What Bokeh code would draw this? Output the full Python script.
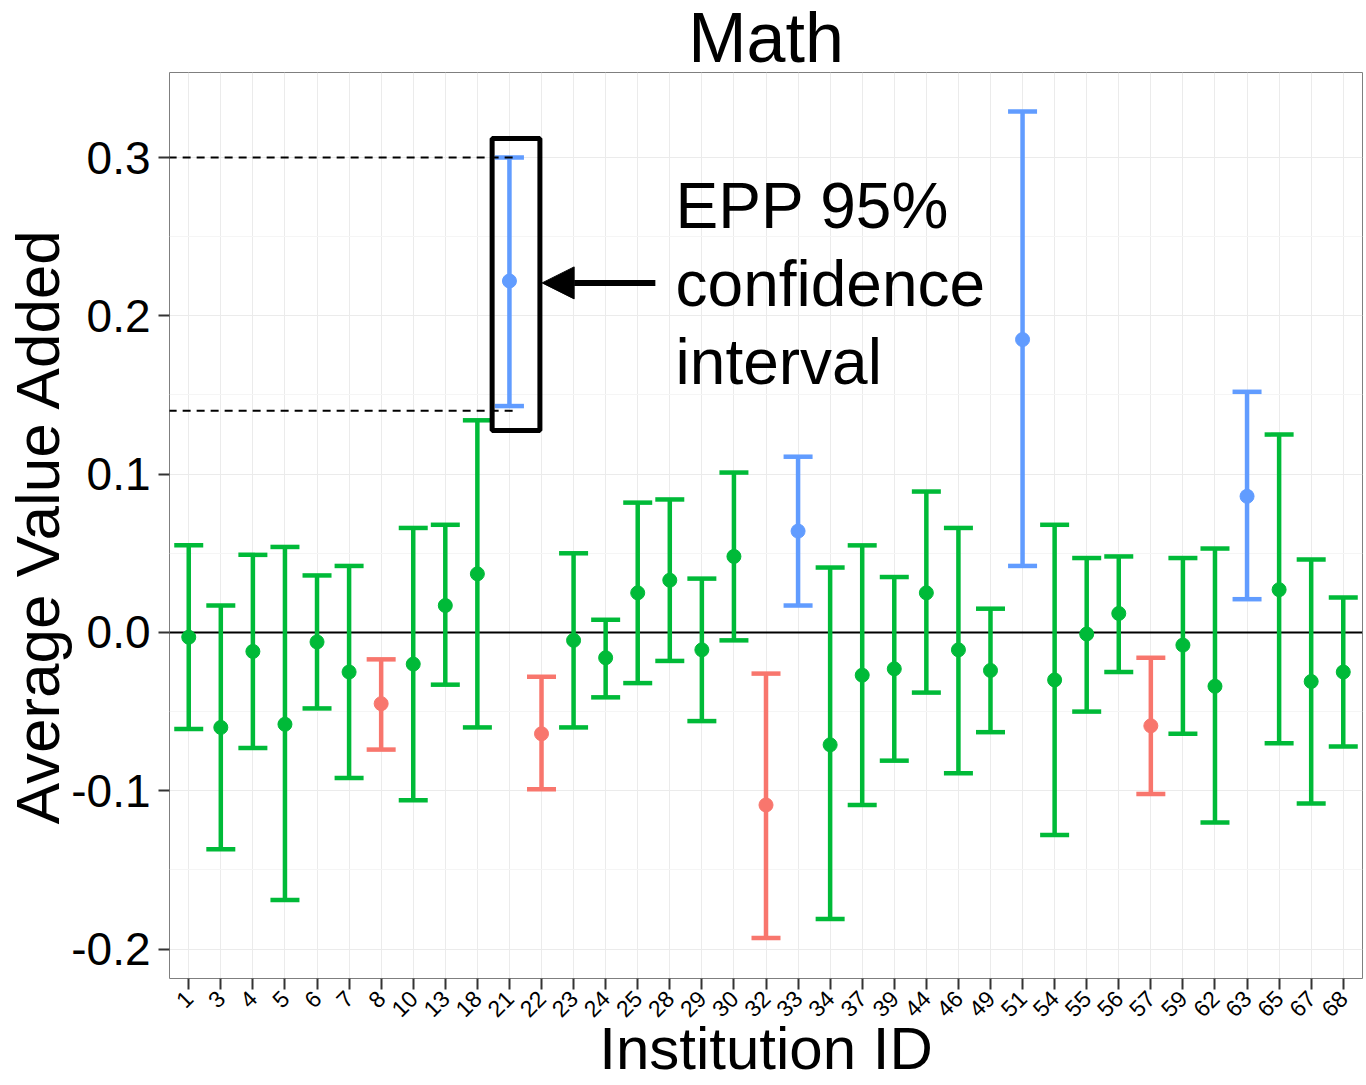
from math import pi

import pandas as pd
from bokeh.plotting import figure
from bokeh.models import (ColumnDataSource, FactorRange, Range1d, Whisker, TeeHead,
                          Span, Arrow, NormalHead, FixedTicker, PrintfTickFormatter)
from bokeh.core.properties import value
from bokeh.embed import file_html
from bokeh.resources import INLINE

FONT = "Liberation Sans"

# --- data ---
institutions = ["1", "3", "4", "5", "6", "7", "8", "10", "13", "18", "21", "22", "23",
                "24", "25", "28", "29", "30", "32", "33", "34", "37", "39", "44", "46",
                "49", "51", "54", "55", "56", "57", "59", "62", "63", "65", "67", "68"]
estimate = [-0.003, -0.060, -0.012, -0.058, -0.006, -0.025, -0.045, -0.020, 0.017, 0.037,
            0.222, -0.064, -0.005, -0.016, 0.025, 0.033, -0.011, 0.048, -0.109, 0.064,
            -0.071, -0.027, -0.023, 0.025, -0.011, -0.024, 0.185, -0.030, -0.001, 0.012,
            -0.059, -0.008, -0.034, 0.086, 0.027, -0.031, -0.025]
lower = [-0.061, -0.137, -0.073, -0.169, -0.048, -0.092, -0.074, -0.106, -0.033, -0.060,
         0.143, -0.099, -0.060, -0.041, -0.032, -0.018, -0.056, -0.005, -0.193, 0.017,
         -0.181, -0.109, -0.081, -0.038, -0.089, -0.063, 0.042, -0.128, -0.050, -0.025,
         -0.102, -0.064, -0.120, 0.021, -0.070, -0.108, -0.072]
upper = [0.055, 0.017, 0.049, 0.054, 0.036, 0.042, -0.017, 0.066, 0.068, 0.134,
         0.300, -0.028, 0.050, 0.008, 0.082, 0.084, 0.034, 0.101, -0.026, 0.111,
         0.041, 0.055, 0.035, 0.089, 0.066, 0.015, 0.329, 0.068, 0.047, 0.048,
         -0.016, 0.047, 0.053, 0.152, 0.125, 0.046, 0.022]
group = ["avg", "avg", "avg", "avg", "avg", "avg", "below", "avg", "avg", "avg",
         "above", "below", "avg", "avg", "avg", "avg", "avg", "avg", "below", "above",
         "avg", "avg", "avg", "avg", "avg", "avg", "above", "avg", "avg", "avg",
         "below", "avg", "avg", "above", "avg", "avg", "avg"]

group_colors = {"below": "#F8766D", "avg": "#00BA38", "above": "#619CFF"}

y_ticks = [-0.2, -0.1, 0.0, 0.1, 0.2, 0.3]
y_minor = [-0.15, -0.05, 0.05, 0.15, 0.25]

# annotation
highlight = "21"
ref_values = [0.30, 0.14]
note = "EPP 95%\nconfidence\ninterval"

df = pd.DataFrame(dict(id=institutions, est=estimate, lo=lower, hi=upper, grp=group))

p = figure(width=1366, height=1085,
           x_range=FactorRange(*institutions, range_padding=0.1, range_padding_units="absolute"),
           y_range=Range1d(-0.2186, 0.3537),
           output_backend="svg", toolbar_location=None, title="Math",
           min_border_left=169, min_border_right=4, min_border_top=72, min_border_bottom=107)

p.background_fill_color = "white"
p.outline_line_color = "#7F7F7F"
p.outline_line_width = 1

# grid like theme_bw
p.xgrid.grid_line_color = "#EBEBEB"
p.ygrid.grid_line_color = "#EBEBEB"
p.ygrid.minor_grid_line_color = "#F5F5F5"

# zero line
p.add_layout(Span(location=0, dimension="width", line_color="black", line_width=2, level="underlay"))

# error bars + points, one pass per colour group
for g, col in group_colors.items():
    src = ColumnDataSource(df[df["grp"] == g])
    p.add_layout(Whisker(base="id", lower="lo", upper="hi", source=src,
                         line_color=col, line_width=4.5,
                         upper_head=TeeHead(size=29, line_color=col, line_width=4.5),
                         lower_head=TeeHead(size=29, line_color=col, line_width=4.5)))
    p.scatter("id", "est", source=src, size=14, color=col)

# highlighted interval: dashed guides, box, arrow, note
hi_idx = institutions.index(highlight)
centre = hi_idx + 0.5
p.segment(x0=[-1] * len(ref_values), y0=ref_values,
          x1=[centre + 0.13] * len(ref_values), y1=ref_values,
          line_color="black", line_width=2, line_dash="8 6")
p.quad(left=[centre - 0.54], right=[centre + 0.95],
       bottom=[lower[hi_idx] - 0.0155], top=[upper[hi_idx] + 0.012],
       fill_color=None, line_color="black", line_width=5)
p.add_layout(Arrow(x_start=centre + 4.55, x_end=centre + 1.02,
                   y_start=estimate[hi_idx] - 0.0012, y_end=estimate[hi_idx] - 0.0012,
                   line_width=6, line_color="black",
                   end=NormalHead(size=32, fill_color="black", line_color="black")))
p.text(x=[centre + 5.18], y=[estimate[hi_idx] - 0.002], text=[note],
       text_font=value(FONT), text_font_size="64px", text_line_height=1.08,
       text_baseline="middle", text_align="left", text_color="black")

# title
p.title.text_font = FONT
p.title.text_font_size = "70px"
p.title.text_font_style = "normal"
p.title.text_color = "black"
p.title.align = "center"
p.title.standoff = -9

# axes
p.yaxis.ticker = FixedTicker(ticks=y_ticks, minor_ticks=y_minor)
p.yaxis.formatter = PrintfTickFormatter(format="%.1f")
p.yaxis.axis_label = "Average Value Added"
p.xaxis.axis_label = "Institution ID"
p.xaxis.major_label_orientation = pi / 4

for ax in (p.xaxis, p.yaxis):
    ax.axis_line_color = None
    ax.major_tick_line_color = "#333333"
    ax.major_tick_line_width = 2
    ax.major_tick_out = 11
    ax.major_tick_in = 0
    ax.minor_tick_line_color = None
    ax.axis_label_text_font = FONT
    ax.axis_label_text_font_style = "normal"
    ax.axis_label_text_color = "black"
    ax.major_label_text_font = FONT
    ax.major_label_text_color = "black"

p.yaxis.major_label_text_font_size = "46px"
p.yaxis.axis_label_text_font_size = "62px"
p.yaxis.major_label_standoff = 8
p.yaxis.axis_label_standoff = -4
p.xaxis.major_label_text_font_size = "23px"
p.xaxis.axis_label_text_font_size = "60px"
p.xaxis.major_label_standoff = 5
p.xaxis.axis_label_standoff = -13

open("out.html", "w").write(file_html(p, INLINE))
